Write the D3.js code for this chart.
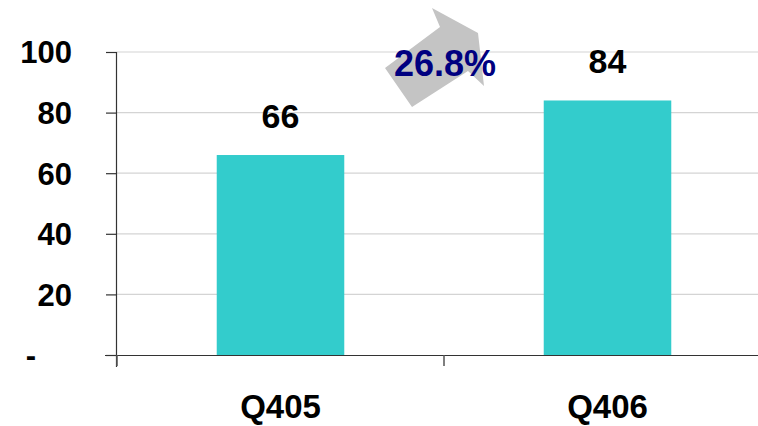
<!DOCTYPE html>
<html>
<head>
<meta charset="utf-8">
<script src="https://cdn.jsdelivr.net/npm/d3@7"></script>
<style>
  html, body { margin:0; padding:0; background:#fff; }
  svg text { font-family: Arial, "Liberation Sans", sans-serif; font-weight: bold; }
</style>
</head>
<body>
<svg id="chart" width="758" height="426"></svg>
<script>
// data
const quarters = ['Q405', 'Q406'];
const values = [66, 84];
const yTicks = [0, 20, 40, 60, 80, 100];
const growthLabel = '26.8%';

const svg = d3.select('#chart');
const margin = {left:117, top:52, bottom:355, right:771};

const x = d3.scaleBand().domain(quarters).range([margin.left, margin.right]);
const y = d3.scaleLinear().domain([0, 100]).range([margin.bottom, margin.top]);
const barW = x.bandwidth() * 0.39;

// gridlines
svg.append('g').selectAll('line').data(yTicks.slice(1)).join('line')
  .attr('x1', margin.left).attr('x2', 758)
  .attr('y1', d => y(d)).attr('y2', d => y(d))
  .attr('stroke', '#d4d4d4').attr('stroke-width', 1.2);

// bars
svg.append('g').selectAll('rect').data(values).join('rect')
  .attr('x', (d,i) => x(quarters[i]) + (x.bandwidth() - barW)/2)
  .attr('y', d => y(d))
  .attr('width', barW)
  .attr('height', d => y(0) - y(d))
  .attr('fill', '#33cccc');

// y axis
const yAxis = svg.append('g').attr('transform', `translate(${margin.left},0)`)
  .call(d3.axisLeft(y).tickValues(yTicks).tickSize(11).tickFormat(d => d === 0 ? '-' : d));
yAxis.select('.domain').attr('stroke', '#333').attr('stroke-width', 1.2).attr('d', `M-0.5,${y(100)}V${y(0)+12}`);
yAxis.selectAll('.tick line').attr('stroke', '#333').attr('stroke-width', 1.2);
yAxis.selectAll('.tick text')
  .attr('x', d => d === 0 ? -86 : -45).attr('dy', '0.35em')
  .attr('text-anchor', d => d === 0 ? 'middle' : 'end')
  .attr('font-size', 31).attr('fill', '#000')
  .attr('font-family', 'Arial, "Liberation Sans", sans-serif').attr('font-weight', 'bold');

// x axis
const xAxis = svg.append('g').attr('transform', `translate(0,${y(0)})`)
  .call(d3.axisBottom(x).tickSize(0).tickFormat(''));
xAxis.select('.domain').attr('stroke', '#333').attr('stroke-width', 1.2).attr('d', `M105,0.5H758`);
svg.append('g').selectAll('line').data(x.domain().map(d => x(d)).concat([margin.right])).join('line')
  .attr('x1', d => d).attr('x2', d => d)
  .attr('y1', y(0)).attr('y2', y(0) + 11)
  .attr('stroke', '#555').attr('stroke-width', 1.5);

// category labels
svg.append('g').selectAll('text').data(quarters).join('text')
  .attr('x', d => x(d) + x.bandwidth()/2)
  .attr('y', 418)
  .attr('text-anchor', 'middle')
  .attr('font-size', 33)
  .text(d => d);

// value labels
svg.append('g').selectAll('text').data(values).join('text')
  .attr('x', (d,i) => x(quarters[i]) + x.bandwidth()/2)
  .attr('y', d => y(d) - 27)
  .attr('text-anchor', 'middle')
  .attr('font-size', 34)
  .text(d => d);

// growth arrow
const arrow = [[385,68],[440,27],[432,8],[478,33],[484,86],[468,71],[412,107]];
svg.append('polygon')
  .attr('points', arrow.map(p => p.join(',')).join(' '))
  .attr('fill', '#c4c4c4');
svg.append('text')
  .attr('x', 445).attr('y', 76)
  .attr('text-anchor', 'middle')
  .attr('font-size', 36)
  .attr('fill', '#000080')
  .text(growthLabel);
</script>
</body>
</html>
